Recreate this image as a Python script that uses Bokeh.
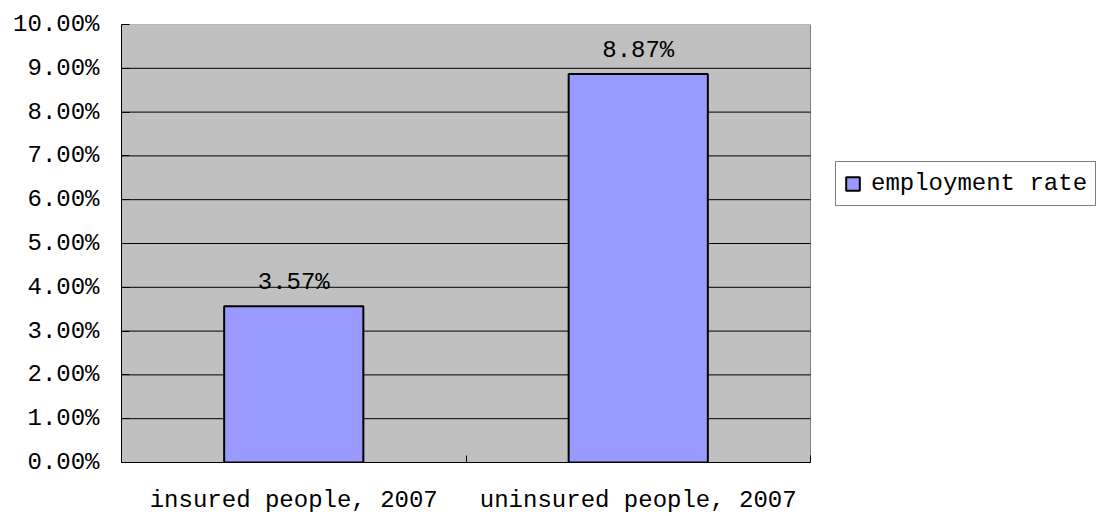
from bokeh.plotting import figure
from bokeh.models import (Range1d, FixedTicker, NumeralTickFormatter, Legend,
                          LegendItem, ColumnDataSource, LabelSet)
from bokeh.core.properties import value
from bokeh.embed import file_html
from bokeh.resources import INLINE

# Employment rate by insurance status
categories = ["insured people, 2007", "uninsured people, 2007"]
rates = [0.0357, 0.0887]
series_name = "employment rate"
y_max = 0.10
y_step = 0.01

FONT = "Liberation Mono"

n = len(categories)
positions = [i + 0.5 for i in range(n)]
labels = [f"{r * 100:.2f}%" for r in rates]
source = ColumnDataSource(dict(x=positions, top=rates, label=labels))
y_ticks = [round(i * y_step, 4) for i in range(int(round(y_max / y_step)) + 1)]

# The frame runs to the right edge so the legend can sit beside the plot area;
# the plot area itself spans x = 0 .. n (689 px of the 977 px frame).
x_end = n * 977 / 689
p = figure(width=1098, height=516, output_backend="svg", toolbar_location=None,
           x_range=Range1d(0, x_end), y_range=Range1d(0, y_max),
           min_border_left=121, min_border_right=0,
           min_border_top=24, min_border_bottom=54)

p.background_fill_color = "white"
p.border_fill_color = "white"
p.outline_line_color = None

# grey plot area with its border
p.quad(left=0, right=n, bottom=0, top=y_max, fill_color="#C0C0C0",
       line_color="#808080", line_width=1, level="image")

# horizontal grid lines limited to the plot area
grid_y = y_ticks[1:-1]
p.xgrid.grid_line_color = None
p.ygrid.grid_line_color = None
p.segment(x0=[0] * len(grid_y), x1=[n] * len(grid_y), y0=grid_y, y1=grid_y,
          line_color="black", line_width=1, level="underlay")

bars = p.vbar(x="x", top="top", width=0.404, bottom=0, source=source,
              fill_color="#9999FF", line_color="black", line_width=2)

# value labels above each bar
p.add_layout(LabelSet(x="x", y="top", text="label", source=source,
                      text_align="center", text_baseline="bottom",
                      y_offset=10, text_font=value(FONT), text_font_size="24px",
                      text_color="black"))

# y axis
p.yaxis.ticker = FixedTicker(ticks=y_ticks)
p.yaxis.formatter = NumeralTickFormatter(format="0.00%")
p.yaxis.major_label_text_font = FONT
p.yaxis.major_label_text_font_size = "24px"
p.yaxis.major_label_text_color = "black"
p.yaxis.major_label_standoff = 22
p.yaxis.major_tick_in = 8
p.yaxis.major_tick_out = 0
p.yaxis.minor_tick_line_color = None
p.yaxis.axis_line_color = "black"
p.yaxis.major_tick_line_color = "black"

# x axis: labels centred on categories, ticks at category boundaries
p.xaxis.bounds = (0, n)
p.xaxis.ticker = FixedTicker(ticks=positions, minor_ticks=list(range(n + 1)))
p.xaxis.major_label_overrides = {pos: cat for pos, cat in zip(positions, categories)}
p.xaxis.major_label_text_font = FONT
p.xaxis.major_label_text_font_size = "24px"
p.xaxis.major_label_text_color = "black"
p.xaxis.major_label_standoff = 18
p.xaxis.major_tick_line_color = None
p.xaxis.minor_tick_in = 7
p.xaxis.minor_tick_out = 0
p.xaxis.minor_tick_line_color = "black"
p.xaxis.axis_line_color = "black"

legend = Legend(items=[LegendItem(label=series_name, renderers=[bars])],
                location=(714, 256), orientation="vertical",
                label_text_font=FONT, label_text_font_size="24px",
                label_text_color="black", label_text_line_height=1.0,
                label_height=18, glyph_width=17, glyph_height=17,
                label_standoff=10, padding=8, margin=0, spacing=0,
                border_line_color="black", border_line_width=1,
                background_fill_color="white", background_fill_alpha=1.0)
p.add_layout(legend, "center")

open("out.html", "w").write(file_html(p, INLINE))
